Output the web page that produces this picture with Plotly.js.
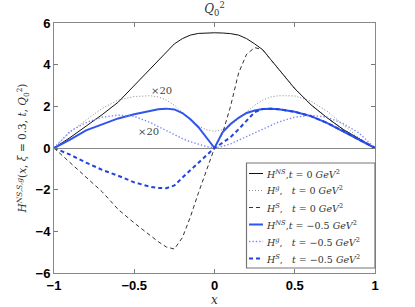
<!DOCTYPE html>
<html>
<head>
<meta charset="utf-8">
<script src="https://cdn.plot.ly/plotly-3.0.1.min.js"></script>
<style>html,body{margin:0;padding:0;background:#fff;}#chart{width:415px;height:307px;}</style>
</head>
<body>
<div id="chart"></div>
<script>
// shared x grid
const xGrid = [-1, -0.9, -0.8, -0.7, -0.6, -0.5, -0.4, -0.35, -0.3, -0.25, -0.2, -0.15, -0.1, -0.05, 0,
               0.05, 0.1, 0.15, 0.2, 0.25, 0.3, 0.35, 0.4, 0.5, 0.6, 0.7, 0.8, 0.9, 1];

// t = 0 GeV^2
const hNS_t0 = [0, 0.5, 1.05, 1.6, 2.2, 3.0, 3.8, 4.2, 4.6, 5.0, 5.25, 5.42, 5.5, 5.53, 5.53,
                5.52, 5.49, 5.42, 5.25, 5.0, 4.72, 4.25, 3.78, 2.85, 2.08, 1.46, 0.9, 0.43, 0];
const hg_t0  = [0, 0.75, 1.35, 1.9, 2.3, 2.47, 2.51, 2.45, 2.3, 2.05, 1.7, 1.35, 1.05, 0.88, 0.8,
                0.88, 1.08, 1.4, 1.75, 2.05, 2.3, 2.45, 2.51, 2.5, 2.25, 1.78, 1.13, 0.49, 0];
const hS_t0  = [0, -0.7, -1.4, -2.1, -2.95, -3.6, -4.2, -4.5, -4.75, -4.85, -4.3, -3.3, -2.15, -1.05, 0,
                0.7, 2.0, 3.6, 4.5, 4.82, 4.72, 4.25, 3.78, 2.85, 2.08, 1.46, 0.9, 0.43, 0];

// t = -0.5 GeV^2
const hNS_t05 = [0, 0.4, 0.85, 1.15, 1.42, 1.62, 1.78, 1.86, 1.89, 1.85, 1.68, 1.38, 1.0, 0.5, 0,
                 0.75, 1.15, 1.45, 1.68, 1.8, 1.87, 1.89, 1.86, 1.74, 1.53, 1.21, 0.82, 0.42, 0];
const hg_t05  = [0, 0.8, 1.22, 1.48, 1.58, 1.52, 1.22, 1.02, 0.82, 0.62, 0.45, 0.3, 0.17, 0.07, 0,
                 0.08, 0.2, 0.37, 0.55, 0.72, 0.88, 1.06, 1.25, 1.48, 1.57, 1.48, 1.18, 0.72, 0];
const hS_t05  = [0, -0.32, -0.7, -1.05, -1.33, -1.65, -1.86, -1.92, -1.93, -1.8, -1.42, -1.07, -0.74, -0.35, 0,
                 0.25, 0.52, 0.9, 1.3, 1.72, 1.87, 1.89, 1.86, 1.74, 1.53, 1.21, 0.82, 0.42, 0];

const seriesNames = [
  '<i>H</i><sup><i>NS</i></sup>,<i>t</i> = 0 <i>GeV</i><sup>2</sup>',
  '<i>H</i><sup><i>g</i></sup>,\u00a0\u00a0\u00a0<i>t</i> = 0 <i>GeV</i><sup>2</sup>',
  '<i>H</i><sup><i>S</i></sup>,\u00a0\u00a0\u00a0<i>t</i> = 0 <i>GeV</i><sup>2</sup>',
  '<i>H</i><sup><i>NS</i></sup>,<i>t</i> = \u22120.5 <i>GeV</i><sup>2</sup>',
  '<i>H</i><sup><i>g</i></sup>,\u00a0\u00a0\u00a0<i>t</i> = \u22120.5 <i>GeV</i><sup>2</sup>',
  '<i>H</i><sup><i>S</i></sup>,\u00a0\u00a0\u00a0<i>t</i> = \u22120.5 <i>GeV</i><sup>2</sup>'
];
const yTickVals = [-6, -4, -2, 0, 2, 4, 6];
const xTickVals = [-1, -0.5, 0, 0.5, 1];
const xTickText = ['\u22121', '\u22120.5', '0', '0.5', '1'];
const yTickText = ['\u22126', '\u22124', '\u22122', '0', '2', '4', '6'];

const styles = [
  {color: '#111111', width: 1, dash: 'solid'},
  {color: '#8a8a8a', width: 1, dash: '1px,2px'},
  {color: '#333333', width: 1, dash: '4px,3px'},
  {color: '#2f55ee', width: 2, dash: 'solid'},
  {color: '#7f88f5', width: 1.4, dash: '1.4px,2px'},
  {color: '#2244dd', width: 2, dash: '4px,3px'}
];
const ys = [hNS_t0, hg_t0, hS_t0, hNS_t05, hg_t05, hS_t05];

const traces = ys.map((y, i) => ({
  type: 'scatter', mode: 'lines', x: xGrid, y: y, name: seriesNames[i], showlegend: false,
  line: {color: styles[i].color, width: styles[i].width, dash: styles[i].dash, shape: 'linear'}
}));

const serif = 'DejaVu Serif, Liberation Serif, serif';

// custom compact legend (paper coordinates)
const plotH = 250, plotB = 273, plotL = 54, plotW = 321;
const px2x = p => (p - plotL) / plotW;
const py2y = p => (plotB - p) / plotH;
const legShapes = [{
  type: 'rect', xref: 'paper', yref: 'paper',
  x0: px2x(246.5), x1: px2x(375), y0: py2y(268), y1: py2y(163),
  line: {color: '#777', width: 1.2}, fillcolor: '#ffffff', layer: 'above'
}];
const legAnn = [];
seriesNames.forEach((name, i) => {
  const cy = 173.5 + 17 * i;
  legShapes.push({
    type: 'line', xref: 'paper', yref: 'paper',
    x0: px2x(249), x1: px2x(263), y0: py2y(cy), y1: py2y(cy),
    line: {color: styles[i].color, width: styles[i].width, dash: styles[i].dash}, layer: 'above'
  });
  legAnn.push({
    xref: 'paper', yref: 'paper', x: px2x(264), y: py2y(cy), xanchor: 'left', yanchor: 'middle',
    text: name, showarrow: false, font: {family: serif, size: 9.5, color: '#333'}
  });
});

const layout = {
  width: 415, height: 307,
  margin: {l: 54, r: 40, t: 23, b: 34},
  paper_bgcolor: '#ffffff', plot_bgcolor: '#ffffff',
  showlegend: false,
  title: {text: '<i>Q</i><sub>0</sub><sup>2</sup>', font: {family: serif, size: 12, color: '#333'},
          x: 0.5, xref: 'paper', xanchor: 'center', y: 0.985, yanchor: 'top'},
  xaxis: {
    range: [-1, 1], tickvals: xTickVals, ticktext: xTickText,
    ticks: 'inside', ticklen: 4, tickcolor: '#777', mirror: 'ticks',
    showline: true, linecolor: '#888', linewidth: 1,
    showgrid: false, zeroline: false,
    tickfont: {family: 'Liberation Sans, Arial, sans-serif', size: 13, color: '#000', weight: 'bold'},
    title: {text: '<i>x</i>', font: {family: serif, size: 12, color: '#333'}, standoff: 0}
  },
  yaxis: {
    range: [-6, 6], tickvals: yTickVals, ticktext: yTickText,
    ticks: 'inside', ticklen: 4, tickcolor: '#777', mirror: 'ticks',
    showline: true, linecolor: '#888', linewidth: 1,
    showgrid: false, zeroline: true, zerolinecolor: '#888', zerolinewidth: 1,
    tickfont: {family: 'Liberation Sans, Arial, sans-serif', size: 13, color: '#000', weight: 'bold'},
    title: {text: '<i>H</i><sup><i>NS,S,g</i></sup>(<i>x</i>, <i>\u03be</i> = 0.3, <i>t</i>, <i>Q</i><sub>0</sub><sup>2</sup>)',
            font: {family: serif, size: 10.5, color: '#333'}, standoff: 6}
  },
  shapes: legShapes,
  annotations: [
    {x: -0.33, y: 2.78, xref: 'x', yref: 'y', text: '\u00d720', showarrow: false,
     font: {family: serif, size: 10, color: '#444'}},
    {x: -0.41, y: 0.8, xref: 'x', yref: 'y', text: '\u00d720', showarrow: false,
     font: {family: serif, size: 10, color: '#444'}}
  ].concat(legAnn)
};

Plotly.newPlot('chart', traces, layout, {displayModeBar: false, staticPlot: true});
</script>
</body>
</html>
